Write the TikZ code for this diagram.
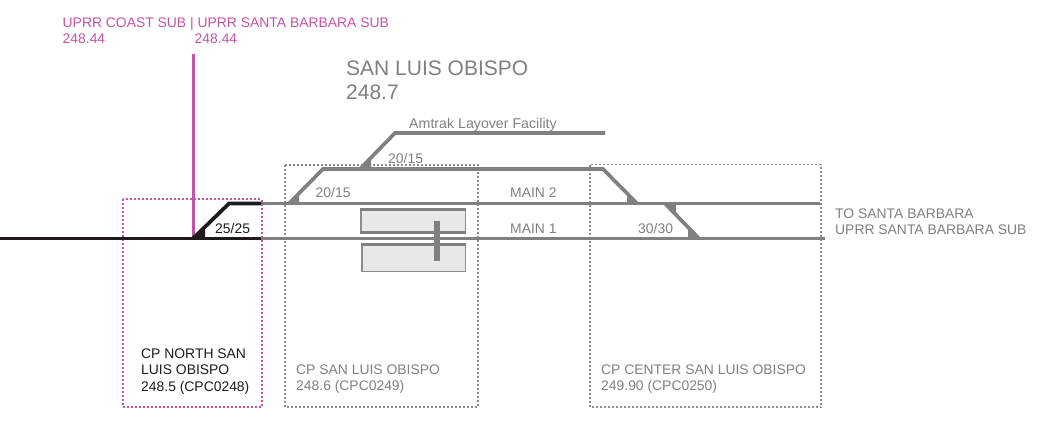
\documentclass[tikz,border=0pt]{standalone}
\usepackage{fontspec}
\setmainfont{Liberation Sans}
\definecolor{tgray}{HTML}{808080}
\definecolor{lgray}{HTML}{8C8C8C}
\definecolor{blk}{HTML}{1E1A1B}
\definecolor{mag}{HTML}{C254A8}
\definecolor{pform}{HTML}{E8E8E8}
\tikzset{
  track/.style={line width=3.7pt,draw=#1},
  wedge/.style={fill=#1,draw=none},
  zonebox/.style={draw=#1,line width=1.6pt,dash pattern=on 2pt off 2pt},
  lab/.style={font=\fontsize{#1}{#1}\selectfont,inner sep=0pt,anchor=base west,align=left},
  lab/.default=13.9,
  pformbox/.style={fill=pform,draw=lgray,line width=1.4pt}
}
\begin{document}
\begin{tikzpicture}[x=1pt,y=-1pt]
\useasboundingbox (0,0) rectangle (1041,424);
% zone boxes
\draw[zonebox=mag] (123.2,199.2) rectangle (262,407);
\draw[zonebox=lgray] (285,165) rectangle (478,407);
\draw[zonebox=lgray] (590,164.5) rectangle (821,407);
% platforms
\draw[pformbox] (361,210) rectangle (465.5,232.5);
\draw[pformbox] (362,244.5) rectangle (465.5,271.5);
\draw[tgray,line width=3.5pt] (360,209.5) -- (466,209.5);
\draw[tgray,line width=3.5pt] (360,232.5) -- (466,232.5);
\draw[tgray,line width=3.5pt] (361,244.5) -- (466,244.5);
% named track points
\coordinate (w0) at (0,238.5);
\coordinate (sw1) at (193,238.5);
\coordinate (tp1) at (229,203.5);
\coordinate (e1) at (261,203.5);
\coordinate (e2) at (261,238.5);
\coordinate (m2end) at (820,203.5);
\coordinate (m1end) at (825,238.5);
\coordinate (sw2) at (289,203.5);
\coordinate (u1) at (323,169);
\coordinate (u2) at (603,169);
\coordinate (sw3) at (637,203.5);
\coordinate (sw4) at (360,169);
\coordinate (t1) at (395,133);
\coordinate (t2) at (605,133);
\coordinate (sw5) at (665,203.5);
\coordinate (sw6) at (699,238.5);
% wedges
\fill[wedge=tgray] (288,203.5) -- (299,203.5) -- (299,192) -- cycle;
\fill[wedge=tgray] (360,169) -- (371,169) -- (371,157) -- cycle;
\fill[wedge=tgray] (627,203.5) -- (638,203.5) -- (627,192) -- cycle;
\fill[wedge=tgray] (665,203.5) -- (676,203.5) -- (676,215) -- cycle;
\fill[wedge=tgray] (688,238.5) -- (699,238.5) -- (688,227) -- cycle;
% gray tracks
\draw[track=tgray] (e1) -- (m2end);
\draw[track=tgray] (e2) -- (m1end);
\draw[track=tgray,line join=miter] (sw2) -- (u1) -- (u2) -- (sw3);
\draw[track=tgray] (sw4) -- (t1) -- (t2);
\draw[track=tgray] (sw5) -- (sw6);
\draw[tgray,line width=5.5pt] (437,221) -- (437,261);
% magenta line
\coordinate (mtop) at (193,54);
\draw[mag,line width=3pt] (mtop) -- (sw1);
% black tracks
\fill[wedge=blk] (194,238.5) -- (205,238.5) -- (205,227) -- cycle;
\draw[track=blk] (w0) -- (e2);
\draw[track=blk] (sw1) -- (tp1) -- (e1);
% labels
\node[lab,text=mag] (a) at (62.5,27) {UPRR COAST SUB | UPRR SANTA BARBARA SUB};
\node[lab,text=mag] (b) at (62.5,43) {248.44};
\node[lab,text=mag] (c) at (194.5,43) {248.44};
\node[lab=21,text=tgray] (d) at (346,75) {SAN LUIS OBISPO};
\node[lab=21,text=tgray] (e) at (346,99) {248.7};
\node[lab=14.2,text=tgray] (f) at (409,128) {Amtrak Layover Facility};
\node[lab,text=tgray] (g) at (388,163) {20/15};
\node[lab,text=tgray] (h) at (315.5,197) {20/15};
\node[lab,text=tgray] (i) at (510,197.5) {MAIN 2};
\node[lab,text=tgray] (j) at (510,233) {MAIN 1};
\node[lab,text=tgray] (k) at (638,233) {30/30};
\node[lab,text=blk] (l) at (215,233) {25/25};
\node[lab,text=tgray] (m) at (835,218) {TO SANTA BARBARA};
\node[lab,text=tgray] (n) at (835,234) {UPRR SANTA BARBARA SUB};
\node[lab,text=blk] (o) at (141,358) {CP NORTH SAN};
\node[lab,text=blk] (p) at (141,374) {LUIS OBISPO};
\node[lab,text=blk] (q) at (141,391) {248.5 (CPC0248)};
\node[lab,text=tgray] (r) at (296,374) {CP SAN LUIS OBISPO};
\node[lab,text=tgray] (s) at (296,390) {248.6 (CPC0249)};
\node[lab,text=tgray] (t) at (601,374) {CP CENTER SAN LUIS OBISPO};
\node[lab,text=tgray] (u) at (601,390) {249.90 (CPC0250)};
\end{tikzpicture}
\end{document}
